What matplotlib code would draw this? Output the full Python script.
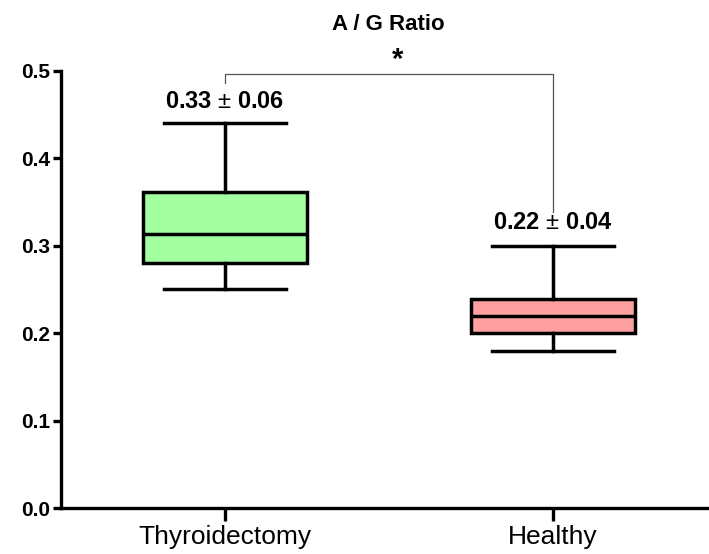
import matplotlib
matplotlib.use("Agg")
import matplotlib.pyplot as plt

plt.rcParams['font.family'] = ['Liberation Sans', 'DejaVu Sans']
plt.rcParams['mathtext.fontset'] = 'custom'
plt.rcParams['mathtext.rm'] = 'Liberation Sans'

groups = ["Thyroidectomy", "Healthy"]
q1 = [0.280, 0.200]
med = [0.314, 0.220]
q3 = [0.362, 0.239]
whislo = [0.250, 0.180]
whishi = [0.440, 0.300]
labels = ["0.33 $\\pm$ 0.06", "0.22 $\\pm$ 0.04"]
colors = ["#A4FFA0", "#FFA0A0"]
yticks = [0.0, 0.1, 0.2, 0.3, 0.4, 0.5]

stats = []
for i in range(len(groups)):
    stats.append(dict(q1=q1[i], med=med[i], q3=q3[i],
                      whislo=whislo[i], whishi=whishi[i], fliers=[]))

fig = plt.figure(figsize=(7.09, 5.54), dpi=100)
ax = fig.add_axes([0.086, 0.083, 0.914, 0.789])

bp = ax.bxp(stats, positions=[0, 1], widths=0.5, patch_artist=True,
            showfliers=False,
            boxprops=dict(linewidth=2.5, edgecolor="black"),
            medianprops=dict(linewidth=2.5, color="black"),
            whiskerprops=dict(linewidth=2.5, color="black"),
            capprops=dict(linewidth=2.5, color="black"),
            capwidths=0.37)
for patch, c in zip(bp["boxes"], colors):
    patch.set_facecolor(c)

ax.set_xlim(-0.5, 1.476)
ax.set_ylim(0, 0.5)
ax.set_yticks(yticks)
ax.set_yticklabels(["%.1f" % v for v in yticks], fontweight="bold", fontsize=15)
ax.set_xticks([0, 1])
ax.set_xticklabels(groups, fontsize=19)
for s in ["top", "right"]:
    ax.spines[s].set_visible(False)
for s in ["left", "bottom"]:
    ax.spines[s].set_linewidth(2.4)
ax.tick_params(width=2.4, length=6, direction="out", pad=2)
ax.tick_params(axis="x", length=9, pad=3)

# mean +/- sd annotations
ax.text(0, 0.465, labels[0], ha="center", va="center", fontsize=17, fontweight="bold")
ax.text(1, 0.327, labels[1], ha="center", va="center", fontsize=17, fontweight="bold")

# significance bracket
ax.plot([0, 0, 1, 1], [0.486, 0.497, 0.497, 0.339], color="#555555", lw=0.9, clip_on=False)
ax.text(0.525, 0.512, "*", ha="center", va="center", fontsize=21, fontweight="bold")

fig.text(388 / 709, 1 - 25 / 554, "A / G Ratio", ha="center", va="center",
         fontsize=16, fontweight="bold")

fig.savefig("out.png", dpi=100)
